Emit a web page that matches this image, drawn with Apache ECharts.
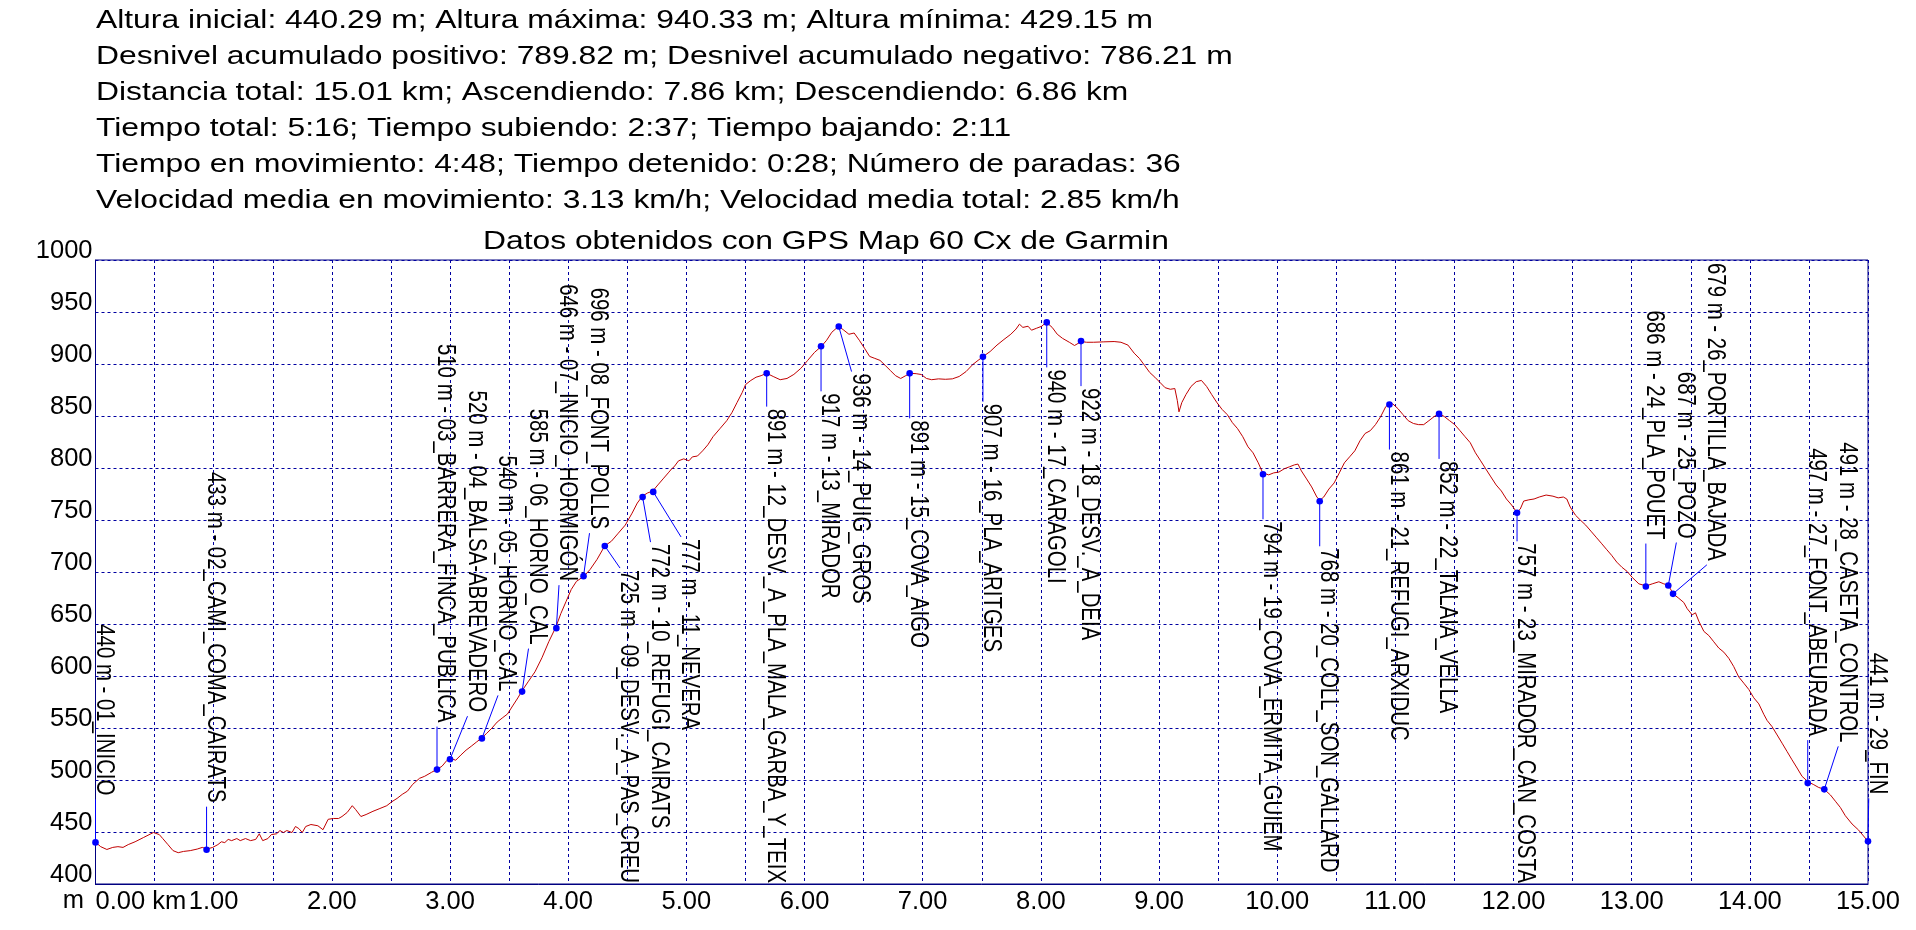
<!DOCTYPE html>
<html>
<head>
<meta charset="utf-8">
<script src="https://cdn.jsdelivr.net/npm/echarts@6/dist/echarts.min.js"></script>
<style>
html,body{margin:0;padding:0;background:#fff;overflow:hidden}
#chart{width:1916px;height:930px}
</style>
</head>
<body>
<div id="chart"></div>
<script>
// ---------- texts ----------
const headerLines = [
  'Altura inicial: 440.29 m; Altura máxima: 940.33 m; Altura mínima: 429.15 m',
  'Desnivel acumulado positivo: 789.82 m; Desnivel acumulado negativo: 786.21 m',
  'Distancia total: 15.01 km; Ascendiendo: 7.86 km; Descendiendo: 6.86 km',
  'Tiempo total: 5:16; Tiempo subiendo: 2:37; Tiempo bajando: 2:11',
  'Tiempo en movimiento: 4:48; Tiempo detenido: 0:28; Número de paradas: 36',
  'Velocidad media en movimiento: 3.13 km/h; Velocidad media total: 2.85 km/h'
];
const titleText = 'Datos obtenidos con GPS Map 60 Cx de Garmin';
const xUnit = 'km';
const yUnit = 'm';

// ---------- axes ----------
const xMin = 0, xMax = 15, xStep = 0.5;
const yMin = 400, yMax = 1000, yStep = 50;

// ---------- elevation profile (distance km, altitude m) ----------
const profileKm = [
  0,0.044,0.096,0.146,0.19,0.233,0.277,0.335,0.408,0.49,0.54,0.569,0.613,0.656,0.7,0.744,0.802,0.861,0.904,0.942,
  0.992,1.036,1.065,1.094,1.123,1.152,1.196,1.225,1.269,1.313,1.356,1.386,1.415,1.459,1.488,1.532,1.561,1.59,1.619,1.663,
  1.692,1.721,1.75,1.779,1.823,1.882,1.925,1.969,2.013,2.057,2.086,2.13,2.173,2.202,2.246,2.29,2.348,2.407,2.465,2.509,
  2.552,2.596,2.64,2.684,2.742,2.786,2.844,2.888,2.932,2.975,3.005,3.048,3.092,3.136,3.18,3.223,3.267,3.311,3.355,3.399,
  3.442,3.486,3.53,3.574,3.608,3.661,3.719,3.778,3.836,3.897,3.938,3.982,4.026,4.07,4.134,4.186,4.245,4.309,
  4.366,4.424,4.483,4.541,4.585,4.628,4.672,4.716,4.759,4.803,4.847,4.876,4.896,4.934,4.978,5.022,5.051,5.094,5.138,5.182,
  5.226,5.284,5.342,5.386,5.429,5.473,5.502,5.546,5.59,5.633,5.68,5.735,5.794,5.852,5.91,5.969,6.027,6.085,6.143,6.187,
  6.231,6.289,6.333,6.376,6.42,6.464,6.508,6.551,6.595,6.639,6.682,6.726,6.77,6.814,6.857,6.895,6.945,6.988,7.032,7.076,
  7.134,7.192,7.251,7.309,7.367,7.425,7.469,7.513,7.571,7.629,7.688,7.746,7.79,7.819,7.848,7.892,7.921,7.964,8.008,8.046,
  8.096,8.139,8.183,8.241,8.285,8.343,8.387,8.445,8.533,8.62,8.678,8.737,
  8.79,8.834,8.877,8.921,8.965,9.009,9.052,9.096,9.134,9.155,9.169,9.193,9.228,9.271,9.315,9.359,9.403,9.446,9.49,9.534,
  9.578,9.621,9.665,9.709,9.753,9.796,9.84,9.878,9.928,9.971,10.015,10.059,10.103,10.146,10.176,10.205,10.249,10.292,10.336,10.362,
  10.394,10.438,10.482,10.526,10.569,10.613,10.657,10.701,10.744,10.788,10.832,10.876,10.919,10.946,10.978,11.022,11.065,11.109,11.153,11.197,
  11.24,11.284,11.328,11.372,11.415,11.459,11.503,11.547,11.59,11.634,11.678,11.722,11.765,11.809,11.853,11.897,11.94,11.984,12.028,12.057,
  12.086,12.13,12.174,12.218,12.276,12.334,12.378,12.422,12.451,12.48,12.524,12.568,12.611,12.655,12.699,12.743,12.786,12.83,12.874,12.918,
  12.961,13.005,
  13.061,13.123,13.174,13.23,13.272,13.309,13.354,13.399,13.441,13.47,13.512,13.54,13.568,13.611,13.653,13.695,13.737,13.78,13.822,13.864,
  13.906,13.949,13.991,14.033,14.076,14.118,14.146,14.188,14.231,14.273,14.315,14.357,14.4,14.442,14.493,14.541,14.583,14.628,14.682,14.724,
  14.766,14.808,14.865,14.921,15.0
];
const profileEle = [
  440.2,435.9,433.2,435.2,435.9,435.2,437.9,440.6,444.8,449.5,447.5,443.7,437.9,432.1,430.1,431.3,432.1,433.6,435.2,433.6,
  435.2,437.9,440.6,439.8,442.9,441.7,443.7,441.7,443.7,441.7,442.9,448.3,441.7,443.7,447.5,448.3,451.4,449.5,451.4,449.5,
  455.3,453.3,449.5,455.3,457.2,456.0,452.2,462.2,463.0,463.0,464.9,468.8,475.3,471.5,464.9,466.8,469.9,472.6,475.3,479.2,
  482.3,486.2,489.3,495.8,501.6,503.6,507.4,510.1,513.2,519.0,520.9,519.0,524.0,528.7,532.5,536.4,540.3,544.9,549.9,555.7,
  559.6,563.4,571.2,578.9,585.5,594.4,604.0,617.5,633.0,647.3,660.0,671.6,683.2,691.0,696.0,702.5,712.2,725.0,
  729.6,737.3,745.1,756.6,766.3,772.9,776.0,777.9,783.7,789.5,795.3,799.2,801.1,806.9,808.8,806.9,810.7,811.5,816.5,822.3,
  830.1,837.8,845.5,853.3,862.9,872.6,880.3,884.2,887.3,888.8,891.1,888.0,884.9,886.1,890.0,895.8,903.5,911.2,917.0,922.8,
  930.5,936.3,932.5,928.6,929.8,922.8,915.1,907.3,905.4,903.5,898.8,893.8,888.8,886.1,888.8,891.1,890.7,889.9,886.1,884.9,
  885.7,885.3,885.7,888.0,892.7,899.6,903.5,907.3,912.0,918.2,923.6,928.6,933.6,938.3,935.2,936.3,932.5,934.4,936.3,940.2,
  935.2,928.6,924.7,920.9,917.8,921.6,920.9,920.9,921.3,921.6,920.9,918.2,
  910.4,905.4,898.8,891.9,887.3,882.2,877.2,875.7,876.4,864.8,854.0,862.9,870.6,878.4,883.0,884.2,878.4,870.6,862.9,856.3,
  851.3,843.6,837.8,830.1,820.4,814.6,805.0,795.3,793.4,795.3,796.1,799.2,801.1,803.0,803.8,797.2,789.5,781.8,772.1,769.0,
  772.1,779.8,785.6,795.3,805.0,810.7,816.5,826.2,833.2,835.9,841.7,849.4,859.0,861.7,861.7,857.1,851.3,845.5,842.8,841.7,
  841.7,845.5,849.4,852.5,849.4,845.5,841.7,835.9,830.1,824.3,814.6,806.9,799.2,791.4,783.7,777.9,770.2,764.4,757.4,760.5,
  768.2,769.4,770.2,772.1,774.0,772.9,771.3,772.1,770.2,762.4,754.7,749.7,745.1,739.3,733.5,727.7,721.9,716.1,709.5,704.5,
  700.6,694.8,
  688.6,686.6,688.6,690.6,688.6,687.4,678.7,674.7,670.7,664.7,658.8,660.8,652.8,642.9,638.9,632.9,626.9,622.9,617.0,609.0,
  599.1,593.1,587.1,579.1,573.2,563.2,557.3,551.3,543.3,535.4,527.4,519.4,511.5,503.5,498.3,495.5,492.8,491.2,485.6,479.6,
  473.6,465.7,457.7,451.8,441.0
];

// ---------- waypoints ----------
const wpKm = [0.00,0.94,2.89,3.00,3.27,3.61,3.90,4.13,4.31,4.63,4.72,5.68,6.14,6.29,6.89,7.51,8.05,8.34,9.88,10.36,10.95,11.37,12.03,13.12,13.31,13.35,14.49,14.63,15.00];
const wpEle = [440,433,510,520,540,585,646,696,725,772,777,891,917,936,891,907,940,922,794,768,861,852,757,686,687,679,497,491,441];
const wpName = [
  '01_INICIO','02_CAMI_COMA_CAIRATS','03_BARRERA_FINCA_PUBLICA','04_BALSA-ABREVADERO','05_HORNO_CAL',
  '06_HORNO_CAL','07_INICIO_HORMIGÓN','08_FONT_POLLS','09_DESV._A_PAS_CREU','10_REFUGI_CAIRATS',
  '11_NEVERA','12_DESV._A_PLA_MALA_GARBA_Y_TEIX','13_MIRADOR','14_PUIG_GROS','15_COVA_AIGO',
  '16_PLA_ARITGES','17_CARAGOLI','18_DESV._A_DEIA','19_COVA_ERMITA_GUIEM','20_COLL_SON_GALLARD',
  '21_REFUGI_ARXIDUC','22_TALAIA_VELLA','23_MIRADOR_CAN_COSTA','24_PLA_POUET','25_POZO',
  '26_PORTILLA_BAJADA','27_FONT_ABEURADA','28_CASETA_CONTROL','29_FIN'
];

// ---------- styling ----------
const FONT_FAMILY = '"Liberation Sans", Arial, sans-serif';
const NAVY = '#000080';
const GRID_BLUE = '#0000a0';
const PROFILE_RED = '#c00000';
const WP_BLUE = '#0000ff';
const AXIS_FONT_SIZE = 25.5;
const LBL_FONT_SIZE = 25.5;
const LBL_FONT = LBL_FONT_SIZE + 'px ' + FONT_FAMILY;
const LBL_SQUEEZE = 0.8;      // label glyphs are condensed along the text direction
const LBL_MIN_SPACING = 30.5; // horizontal spacing between neighbouring labels
const LBL_GAP = 47;           // distance between a point and its label
const HEAD_SIZE = 26.5;
const HEAD_STRETCH = 1.2;

const measureCtx = document.createElement('canvas').getContext('2d');
measureCtx.font = LBL_FONT;

const wpLabels = wpName.map((n, i) => wpEle[i] + ' ' + yUnit + ' - ' + n);
const profileData = profileKm.map((k, i) => [k, profileEle[i]]);
const wpData = wpKm.map((k, i) => [k, wpEle[i]]);

function renderWaypoint(params, api) {
  const cs = params.coordSys;
  const top = cs.y, bottom = cs.y + cs.height;
  const mid = (yMin + yMax) / 2;
  const idx = params.dataIndex;
  let lx = -Infinity, p = null;
  for (let j = 0; j <= idx; j++) {
    const q = api.coord([wpKm[j], wpEle[j]]);
    lx = Math.max(q[0], lx + LBL_MIN_SPACING);
    if (j === idx) p = q;
  }
  const text = wpLabels[idx];
  const len = measureCtx.measureText(text).width * LBL_SQUEEZE;
  let start, leaderEnd;
  if (wpEle[idx] > mid) {
    start = p[1] + LBL_GAP;
    if (start + len > bottom - 1) start = bottom - 1 - len;
    leaderEnd = start - 2;
  } else {
    let end = p[1] - LBL_GAP;
    start = end - len;
    if (start < top + 3) { start = top + 3; end = start + len; }
    leaderEnd = end + 4;
  }
  return {
    type: 'group',
    children: [
      { type: 'line', shape: { x1: p[0], y1: p[1], x2: lx, y2: leaderEnd },
        style: { stroke: WP_BLUE, lineWidth: 1 } },
      { type: 'circle', shape: { cx: p[0], cy: p[1], r: 3.3 },
        style: { fill: WP_BLUE } },
      { type: 'text', x: lx - 4.6, y: start, rotation: -Math.PI / 2, scaleX: LBL_SQUEEZE,
        style: { text: text, font: LBL_FONT, fill: '#000', align: 'left', verticalAlign: 'bottom' } }
    ]
  };
}

const chart = echarts.init(document.getElementById('chart'), null, { renderer: 'canvas' });

const graphics = headerLines.map((t, i) => ({
  type: 'text', x: 96, y: 29.5 + i * 36 - 9.2, scaleX: HEAD_STRETCH,
  style: { text: t, font: HEAD_SIZE + 'px ' + FONT_FAMILY, fill: '#000', align: 'left', verticalAlign: 'middle' }
}));
graphics.push({
  type: 'text', x: 483, y: 251 - 9.2, scaleX: HEAD_STRETCH,
  style: { text: titleText, font: HEAD_SIZE + 'px ' + FONT_FAMILY, fill: '#000', align: 'left', verticalAlign: 'middle' }
});
// unit of the vertical axis, written at the foot of the axis next to the first distance label
graphics.push({
  type: 'text', x: 84, y: 910 - 8.8,
  style: { text: yUnit, font: AXIS_FONT_SIZE + 'px ' + FONT_FAMILY, fill: '#000', align: 'right', verticalAlign: 'middle' }
});

const splitStyle = { show: true, lineStyle: { color: GRID_BLUE, width: 1, type: [3, 3] } };

chart.setOption({
  animation: false,
  backgroundColor: '#fff',
  grid: { left: 95.5, right: 48, top: 260, bottom: 46, show: true, borderColor: NAVY, borderWidth: 1, containLabel: false },
  graphic: graphics,
  xAxis: {
    type: 'value', min: xMin, max: xMax, interval: xStep,
    axisLine: { show: true, lineStyle: { color: NAVY, width: 1 } },
    axisTick: { show: false },
    splitLine: splitStyle,
    axisLabel: {
      color: '#000', fontSize: AXIS_FONT_SIZE, fontFamily: FONT_FAMILY, margin: 5, lineHeight: 25,
      alignMinLabel: 'left',
      formatter: v => {
        if (Math.abs(v - Math.round(v)) > 1e-6) return '';
        return v === 0 ? v.toFixed(2) + ' ' + xUnit : v.toFixed(2);
      }
    }
  },
  yAxis: {
    type: 'value', min: yMin, max: yMax, interval: yStep,
    axisLine: { show: true, lineStyle: { color: NAVY, width: 1 } },
    axisTick: { show: false },
    splitLine: splitStyle,
    axisLabel: {
      color: '#000', fontSize: AXIS_FONT_SIZE, fontFamily: FONT_FAMILY, margin: 3,
      verticalAlign: 'bottom', lineHeight: 18.5,
      formatter: v => String(v)
    }
  },
  series: [
    {
      type: 'line', data: profileData, showSymbol: false, symbol: 'none',
      lineStyle: { color: PROFILE_RED, width: 1 }, z: 2, silent: true
    },
    {
      type: 'custom', data: wpData, encode: { x: 0, y: 1 }, renderItem: renderWaypoint,
      clip: false, z: 3, silent: true
    }
  ]
});
</script>
</body>
</html>
